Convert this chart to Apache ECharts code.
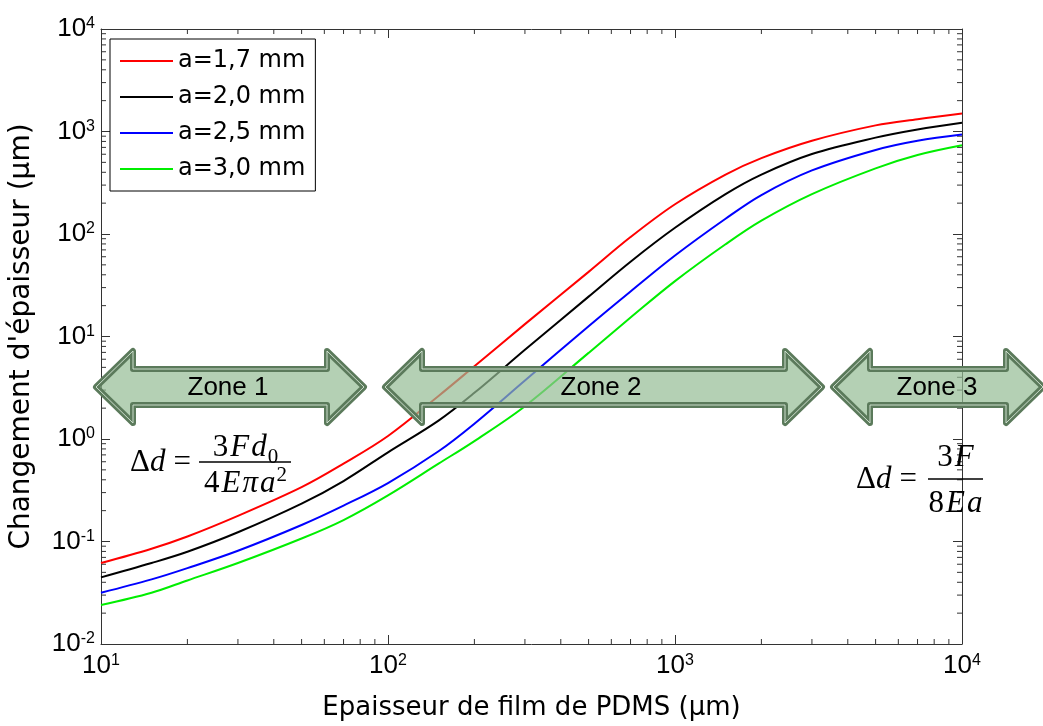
<!DOCTYPE html>
<html>
<head>
<meta charset="utf-8">
<script src="https://cdn.jsdelivr.net/npm/echarts@6/dist/echarts.min.js"></script>
<style>
html,body{margin:0;padding:0;background:#fff;}
#main{width:1043px;height:726px;}
</style>
</head>
<body>
<div id="main"></div>
<script>
// epaisseur du film (µm)
var thickness = [10, 15, 20, 30, 50, 70, 100, 150, 200, 300, 500, 700, 1000, 1500, 2000, 3000, 5000, 7000, 10000];
var names = ['a=1,7 mm', 'a=2,0 mm', 'a=2,5 mm', 'a=3,0 mm'];
var colors = ['#ff0000', '#000000', '#0000ff', '#00ee00'];
// changement d'epaisseur (µm)
var delta17 = [0.0617, 0.0851, 0.112, 0.178, 0.339, 0.575, 1.07, 2.63, 5.13, 13.2, 42.7, 93.3, 195, 380, 550, 813, 1148, 1318, 1496];
var delta20 = [0.0447, 0.0617, 0.0794, 0.123, 0.234, 0.389, 0.741, 1.51, 2.82, 7.41, 24.5, 53.7, 115, 245, 380, 603, 871, 1047, 1216];
var delta25 = [0.0316, 0.0427, 0.055, 0.0813, 0.145, 0.224, 0.372, 0.759, 1.41, 3.72, 12.6, 27.5, 61.7, 141, 240, 417, 661, 813, 933];
var delta30 = [0.024, 0.0316, 0.0417, 0.0617, 0.107, 0.162, 0.282, 0.575, 0.955, 2.09, 6.92, 15.3, 34.7, 79.4, 135, 245, 437, 589, 733];
var allDelta = [delta17, delta20, delta25, delta30];

var X_MIN = 10, X_MAX = 10000, Y_MIN = 0.01, Y_MAX = 10000;

// graduations secondaires (2..9 x 10^n)
var xMinor = [], yMinor = [];
for (var p = 1; p < 4; p++) for (var k = 2; k < 10; k++) xMinor.push([k * Math.pow(10, p), 1]);
for (var q = -2; q < 4; q++) for (var m = 2; m < 10; m++) yMinor.push([10, +(m * Math.pow(10, q)).toPrecision(3)]);

var sans = '"Liberation Sans", Arial, sans-serif';
var wide = '"DejaVu Sans", sans-serif';
var serif = '"Liberation Serif", "Times New Roman", serif';
var axisCol = '#333';

function powLabel(v) {
    var e = Math.round(Math.log10(v));
    return '{b|10}{s|' + e + '}';
}
var labelRich = {
    b: {fontSize: 26, lineHeight: 26, padding: [8, 0, 8, 0], fontFamily: sans, color: '#000'},
    s: {fontSize: 16, lineHeight: 16, verticalAlign: 'top', fontFamily: sans, color: '#000'}
};

function logAxis(pos, show, extra) {
    var a = {
        type: 'log', logBase: 10,
        position: pos,
        axisLine: {show: true, onZero: false, lineStyle: {color: axisCol, width: 1}},
        axisTick: {show: true, inside: true, length: 9, lineStyle: {color: axisCol}},
        splitLine: {show: false},
        axisLabel: {show: show, formatter: powLabel, rich: labelRich}
    };
    for (var key in extra) a[key] = extra[key];
    return a;
}

function minorTicks(horizontal) {
    return function (params, api) {
        var len = 5;
        if (horizontal) {
            var v = api.value(0);
            var b = api.coord([v, Y_MIN]), t = api.coord([v, Y_MAX]);
            return {type: 'group', children: [
                {type: 'line', shape: {x1: b[0], y1: b[1], x2: b[0], y2: b[1] - len}, style: {stroke: axisCol, lineWidth: 1}},
                {type: 'line', shape: {x1: t[0], y1: t[1], x2: t[0], y2: t[1] + len}, style: {stroke: axisCol, lineWidth: 1}}
            ]};
        }
        var w = api.value(1);
        var l = api.coord([X_MIN, w]), r = api.coord([X_MAX, w]);
        return {type: 'group', children: [
            {type: 'line', shape: {x1: l[0], y1: l[1], x2: l[0] + len, y2: l[1]}, style: {stroke: axisCol, lineWidth: 1}},
            {type: 'line', shape: {x1: r[0], y1: r[1], x2: r[0] - len, y2: r[1]}, style: {stroke: axisCol, lineWidth: 1}}
        ]};
    };
}

// fleches doubles (annotations)
function arrowShape(x0, x1, yc) {
    var hl = 37, hh = 36, sh = 18;
    return [[x0, yc], [x0 + hl, yc - hh], [x0 + hl, yc - sh], [x1 - hl, yc - sh], [x1 - hl, yc - hh],
        [x1, yc], [x1 - hl, yc + hh], [x1 - hl, yc + sh], [x0 + hl, yc + sh], [x0 + hl, yc + hh]];
}
function arrow(x0, x1, yc, text, tx) {
    var pts = arrowShape(x0, x1, yc);
    return [
        {type: 'polygon', z: 100, shape: {points: pts},
            style: {fill: 'rgba(148,188,148,0.7)', stroke: '#5b7a5b', lineWidth: 6, lineJoin: 'round'}},
        {type: 'polygon', z: 101, shape: {points: pts},
            style: {fill: null, stroke: 'rgba(215,232,215,0.9)', lineWidth: 1, lineJoin: 'round'}},
        {type: 'text', z: 102, x: tx, y: yc + 1,
            style: {text: text, fill: '#000', font: '26px ' + sans, textAlign: 'center', textVerticalAlign: 'middle'}}
    ];
}

var mainTok = {fontSize: 31, lineHeight: 31, fontFamily: serif, color: '#000'};
function tok(o) { var r = {}; for (var k in mainTok) r[k] = mainTok[k]; for (var j in o) r[j] = o[j]; return r; }
var fracRichTop = {
    n: tok({padding: [0, 1, 8, 1]}),
    i: tok({fontStyle: 'italic', padding: [0, 1, 8, 1]}),
    sub: {fontSize: 21, lineHeight: 21, verticalAlign: 'bottom', fontFamily: serif, color: '#000'}
};
var fracRichBot = {
    n: tok({padding: [8, 1, 0, 1]}),
    i: tok({fontStyle: 'italic', padding: [8, 1, 0, 1]}),
    sup: {fontSize: 21, lineHeight: 21, verticalAlign: 'top', fontFamily: serif, color: '#000'}
};
var lhsRich = {
    n: tok({}),
    i: tok({fontStyle: 'italic'}),
    eq: tok({padding: [0, 0, 0, 8]})
};
function formula(x, yc, num, den, barX0, barX1, numY, denY) {
    var cx = (barX0 + barX1) / 2;
    return [
        {type: 'text', z: 110, x: x, y: yc,
            style: {text: '{n|Δ}{i|d}{eq|=}', rich: lhsRich, textAlign: 'left', textVerticalAlign: 'middle'}},
        {type: 'line', z: 110, shape: {x1: barX0, y1: yc - 1, x2: barX1, y2: yc - 1}, style: {stroke: '#000', lineWidth: 1.5}},
        {type: 'text', z: 110, x: cx, y: numY + 4,
            style: {text: num, rich: fracRichTop, textAlign: 'center', textVerticalAlign: 'middle'}},
        {type: 'text', z: 110, x: cx, y: denY - 4,
            style: {text: den, rich: fracRichBot, textAlign: 'center', textVerticalAlign: 'middle'}}
    ];
}

var series = [];
for (var s = 0; s < names.length; s++) {
    var pts = [];
    for (var i = 0; i < thickness.length; i++) pts.push([thickness[i], allDelta[s][i]]);
    series.push({
        name: names[s], type: 'line', data: pts, smooth: 0.35,
        showSymbol: false, symbol: 'none', color: colors[s],
        lineStyle: {width: 2, color: colors[s]}, z: 3
    });
}
series.push({type: 'custom', silent: true, data: xMinor, encode: {x: 0, y: 1}, renderItem: minorTicks(true), z: 1});
series.push({type: 'custom', silent: true, data: yMinor, encode: {x: 0, y: 1}, renderItem: minorTicks(false), z: 1});

var graphics = []
    .concat(arrow(96, 364, 387, 'Zone 1', 228))
    .concat(arrow(385, 822, 387, 'Zone 2', 601))
    .concat(arrow(833, 1043, 387, 'Zone 3', 937))
    .concat(formula(130, 463, '{n|3}{i|F}{i|d}{sub|0}', '{n|4}{i|E}{i|π}{i|a}{sup|2}', 199, 291, 448, 484))
    .concat(formula(856, 480, '{n|3}{i|F}', '{n|8}{i|E}{i|a}', 928, 983, 458, 504));

var myChart = echarts.init(document.getElementById('main'));
option = {
    backgroundColor: '#fff',
    animation: false,
    grid: {left: 101, right: 81, top: 29, bottom: 79, containLabel: false},
    legend: {
        data: names, orient: 'vertical', left: 110, top: 39,
        icon: 'rect', itemWidth: 53, itemHeight: 2, itemGap: 12,
        padding: [10, 10, 10, 10],
        backgroundColor: '#fff', borderColor: '#000', borderWidth: 1, borderRadius: 0,
        textStyle: {fontSize: 24, fontFamily: wide, color: '#000'},
        z: 50
    },
    xAxis: [
        logAxis('bottom', true, {
            min: X_MIN, max: X_MAX,
            name: 'Epaisseur de film de PDMS (µm)', nameLocation: 'middle', nameGap: 51,
            nameTextStyle: {fontSize: 26, fontFamily: wide, color: '#000'}
        }),
        logAxis('top', false, {min: X_MIN, max: X_MAX})
    ],
    yAxis: [
        logAxis('left', true, {
            min: Y_MIN, max: Y_MAX,
            name: "Changement d'épaisseur (µm)", nameLocation: 'middle', nameGap: 65, nameRotate: 90,
            nameTextStyle: {fontSize: 28, fontFamily: wide, color: '#000'}
        }),
        logAxis('right', false, {min: Y_MIN, max: Y_MAX})
    ],
    series: series,
    graphic: graphics
};
option.xAxis[0].axisLabel.margin = 9;
option.yAxis[0].axisLabel.margin = 6;
myChart.setOption(option);
</script>
</body>
</html>
